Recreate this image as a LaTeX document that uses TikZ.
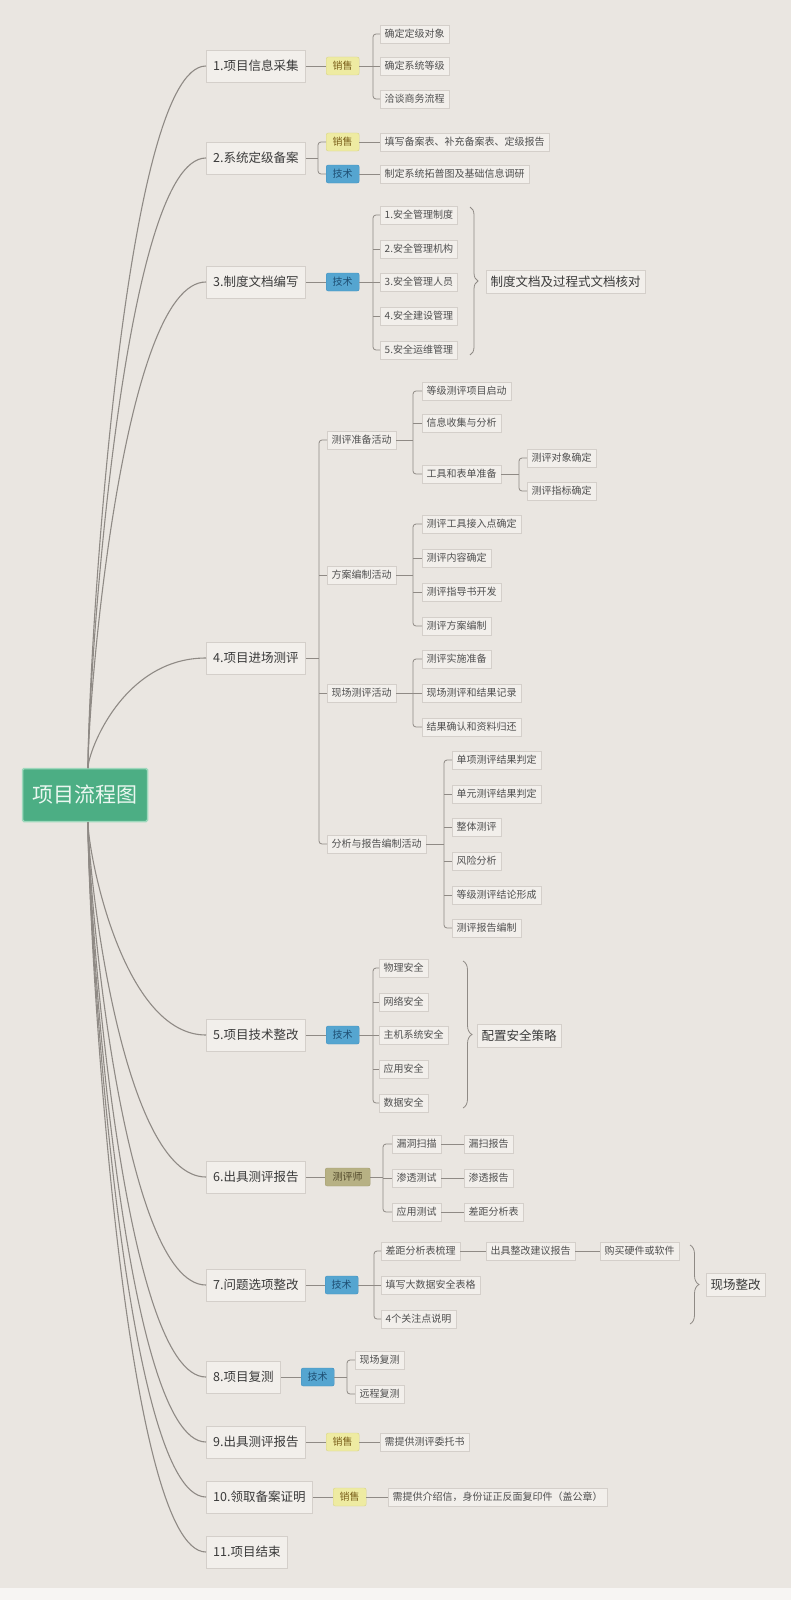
\documentclass[tikz,border=0pt]{standalone}
\usepackage{fontspec}
\setmainfont{Noto Sans CJK SC}
\usetikzlibrary{decorations.pathreplacing}
\definecolor{bgc}{HTML}{EAE6E1}
\definecolor{linec}{HTML}{8F8A85}
\definecolor{boxf}{HTML}{F2EFEB}
\definecolor{boxd}{HTML}{D4CFCA}
\definecolor{maint}{HTML}{3A3A3A}
\definecolor{leaft}{HTML}{505050}
\definecolor{salef}{HTML}{EEEBA2}
\definecolor{saled}{HTML}{D8D488}
\definecolor{salet}{HTML}{7A5F1A}
\definecolor{techf}{HTML}{55A5D0}
\definecolor{techd}{HTML}{3F8FBF}
\definecolor{techt}{HTML}{1F4F73}
\definecolor{testf}{HTML}{B7B184}
\definecolor{testd}{HTML}{A39D70}
\definecolor{testt}{HTML}{4F4628}
\definecolor{rootf}{HTML}{4CAE84}
\definecolor{rootd}{HTML}{9ED8BC}
\definecolor{roott}{HTML}{EAF7F0}
\newcommand\fork[4]{\draw[conn] (#1.east) -- (#2);\draw[conn,rounded corners=3pt] (#3.west) -| (#2) |- (#4.west);}
\newcommand\forkm[5]{\fork{#1}{#2}{#3}{#4}\foreach \c in {#5}{\draw[conn] (#2 |- \c.west) -- (\c.west);}}
\newcommand\mainlink[4]{\draw[trunk] (#1) .. controls (88,{#2+0.15*(#4-#2)}) and (123,#4) .. (#3.west);}
\begin{document}
\begin{tikzpicture}[x=1pt,y=-1pt,
  trunk/.style={draw=linec, line width=1.1pt},
  conn/.style={draw=linec, line width=0.8pt},
  mainbox/.style={draw=boxd, fill=boxf, text=maint, font=\fontsize{12.5pt}{15pt}\selectfont, minimum height=32pt, inner xsep=7pt, anchor=west},
  leaf/.style={draw=boxd, fill=boxf, text=leaft, font=\fontsize{10pt}{12pt}\selectfont, minimum height=18pt, inner xsep=4.5pt, inner ysep=1pt, anchor=west},
  sale/.style={fill=salef, draw=saled, text=salet, font=\fontsize{10pt}{12pt}\selectfont, minimum height=18pt, minimum width=33pt, inner xsep=2pt, rounded corners=2pt, anchor=west},
  tech/.style={sale, fill=techf, draw=techd, text=techt},
  tester/.style={sale, fill=testf, draw=testd, text=testt, minimum width=45pt},
  big/.style={leaf, text=maint, font=\fontsize{12.5pt}{15pt}\selectfont, minimum height=23pt},
  rootbox/.style={fill=rootf, draw=rootd, line width=1.5pt, text=roott, font=\fontsize{21pt}{25pt}\selectfont, minimum height=53pt, minimum width=125pt, rounded corners=1.5pt},
  bracec/.style={draw=linec, line width=0.8pt, decorate, decoration={brace, amplitude=8pt}}
]
\useasboundingbox (0,0) rectangle (791,1600);
\fill[bgc] (0,0) rectangle (791,1600);
\fill[white!60!bgc] (0,1588) rectangle (791,1600);

% root
\node[rootbox] (root) at (85,795) {项目流程图};
\coordinate (ht) at (88,768);
\coordinate (hb) at (88,822);

% main nodes
\node[mainbox] (n1) at (206,66) {1.项目信息采集};
\node[mainbox] (n2) at (206,158) {2.系统定级备案};
\node[mainbox] (n3) at (206,282) {3.制度文档编写};
\node[mainbox] (n4) at (206,658) {4.项目进场测评};
\node[mainbox] (n5) at (206,1035) {5.项目技术整改};
\node[mainbox] (n6) at (206,1177) {6.出具测评报告};
\node[mainbox] (n7) at (206,1285) {7.问题选项整改};
\node[mainbox] (n8) at (206,1377) {8.项目复测};
\node[mainbox] (n9) at (206,1442) {9.出具测评报告};
\node[mainbox] (n10) at (206,1497) {10.领取备案证明};
\node[mainbox] (n11) at (206,1552) {11.项目结束};

\mainlink{ht}{768}{n1}{66}
\mainlink{ht}{768}{n2}{158}
\mainlink{ht}{768}{n3}{282}
\mainlink{ht}{768}{n4}{658}
\mainlink{hb}{822}{n5}{1035}
\mainlink{hb}{822}{n6}{1177}
\mainlink{hb}{822}{n7}{1285}
\mainlink{hb}{822}{n8}{1377}
\mainlink{hb}{822}{n9}{1442}
\mainlink{hb}{822}{n10}{1497}
\mainlink{hb}{822}{n11}{1552}

% branch 1
\node[sale] (s1) at (326,66) {销售};
\node[leaf] (l1a) at (380,34) {确定定级对象};
\node[leaf] (l1b) at (380,66) {确定系统等级};
\node[leaf] (l1c) at (380,99) {洽谈商务流程};
\coordinate (j1) at (373,66);
\draw[conn] (n1.east) -- (s1.west);
\forkm{s1}{j1}{l1a}{l1c}{l1b}

% branch 2
\node[sale] (s2) at (326,142) {销售};
\node[tech] (t2) at (326,174) {技术};
\node[leaf] (l2a) at (380,142) {填写备案表、补充备案表、定级报告};
\node[leaf] (l2b) at (380,174) {制定系统拓普图及基础信息调研};
\coordinate (j2) at (318,158);
\fork{n2}{j2}{s2}{t2}
\draw[conn] (s2.east) -- (l2a.west);
\draw[conn] (t2.east) -- (l2b.west);

% branch 3
\node[tech] (t3) at (326,282) {技术};
\node[leaf] (l3a) at (380,215) {1.安全管理制度};
\node[leaf] (l3b) at (380,249) {2.安全管理机构};
\node[leaf] (l3c) at (380,282) {3.安全管理人员};
\node[leaf] (l3d) at (380,316) {4.安全建设管理};
\node[leaf] (l3e) at (380,350) {5.安全运维管理};
\coordinate (j3) at (373,282);
\draw[conn] (n3.east) -- (t3.west);
\forkm{t3}{j3}{l3a}{l3e}{l3b,l3c,l3d}
\coordinate (b3t) at (470,207);
\coordinate (b3b) at (470,355);
\draw[bracec] (b3t) -- (b3b);
\node[big] (d3) at (486,282) {制度文档及过程式文档核对};

% branch 4
\node[leaf] (p1) at (327,440) {测评准备活动};
\node[leaf] (p2) at (327,575) {方案编制活动};
\node[leaf] (p3) at (327,693) {现场测评活动};
\node[leaf] (p4) at (327,844) {分析与报告编制活动};
\coordinate (j4) at (319,658);
\forkm{n4}{j4}{p1}{p4}{p2,p3}

\node[leaf] (q1) at (422,391) {等级测评项目启动};
\node[leaf] (q2) at (422,423) {信息收集与分析};
\node[leaf] (q3) at (422,474) {工具和表单准备};
\coordinate (j41) at (413,440);
\forkm{p1}{j41}{q1}{q3}{q2}
\node[leaf] (r1) at (527,458) {测评对象确定};
\node[leaf] (r2) at (527,491) {测评指标确定};
\coordinate (j411) at (519,474);
\fork{q3}{j411}{r1}{r2}

\node[leaf] (q4) at (422,524) {测评工具接入点确定};
\node[leaf] (q5) at (422,558) {测评内容确定};
\node[leaf] (q6) at (422,592) {测评指导书开发};
\node[leaf] (q7) at (422,626) {测评方案编制};
\coordinate (j42) at (413,575);
\forkm{p2}{j42}{q4}{q7}{q5,q6}

\node[leaf] (q8) at (422,659) {测评实施准备};
\node[leaf] (q9) at (422,693) {现场测评和结果记录};
\node[leaf] (q10) at (422,727) {结果确认和资料归还};
\coordinate (j43) at (413,693);
\forkm{p3}{j43}{q8}{q10}{q9}

\node[leaf] (u1) at (452,760) {单项测评结果判定};
\node[leaf] (u2) at (452,794) {单元测评结果判定};
\node[leaf] (u3) at (452,827) {整体测评};
\node[leaf] (u4) at (452,861) {风险分析};
\node[leaf] (u5) at (452,895) {等级测评结论形成};
\node[leaf] (u6) at (452,928) {测评报告编制};
\coordinate (j44) at (444,844);
\forkm{p4}{j44}{u1}{u6}{u2,u3,u4,u5}

% branch 5
\node[tech] (t5) at (326,1035) {技术};
\node[leaf] (l5a) at (379,968) {物理安全};
\node[leaf] (l5b) at (379,1002) {网络安全};
\node[leaf] (l5c) at (379,1035) {主机系统安全};
\node[leaf] (l5d) at (379,1069) {应用安全};
\node[leaf] (l5e) at (379,1103) {数据安全};
\coordinate (j5) at (373,1035);
\draw[conn] (n5.east) -- (t5.west);
\forkm{t5}{j5}{l5a}{l5e}{l5b,l5c,l5d}
\coordinate (b5t) at (463,961);
\coordinate (b5b) at (463,1108);
\draw[bracec, decoration={amplitude=9pt}] (b5t) -- (b5b);
\node[big] (d5) at (477,1036) {配置安全策略};

% branch 6
\node[tester] (tt6) at (325,1177) {测评师};
\node[leaf] (l6a) at (392,1144) {漏洞扫描};
\node[leaf] (l6b) at (392,1178) {渗透测试};
\node[leaf] (l6c) at (392,1212) {应用测试};
\node[leaf] (m6a) at (464,1144) {漏扫报告};
\node[leaf] (m6b) at (464,1178) {渗透报告};
\node[leaf] (m6c) at (464,1212) {差距分析表};
\coordinate (j6) at (383,1177);
\draw[conn] (n6.east) -- (tt6.west);
\forkm{tt6}{j6}{l6a}{l6c}{l6b}
\draw[conn] (l6a.east) -- (m6a.west);
\draw[conn] (l6b.east) -- (m6b.west);
\draw[conn] (l6c.east) -- (m6c.west);

% branch 7
\node[tech] (t7) at (325,1285) {技术};
\node[leaf] (l7a) at (381,1251) {差距分析表梳理};
\node[leaf] (l7b) at (381,1285) {填写大数据安全表格};
\node[leaf] (l7c) at (381,1319) {4个关注点说明};
\node[leaf] (m7a) at (486,1251) {出具整改建议报告};
\node[leaf] (m7b) at (600,1251) {购买硬件或软件};
\coordinate (j7) at (374,1285);
\draw[conn] (n7.east) -- (t7.west);
\forkm{t7}{j7}{l7a}{l7c}{l7b}
\draw[conn] (l7a.east) -- (m7a.west);
\draw[conn] (m7a.east) -- (m7b.west);
\coordinate (b7t) at (690,1245);
\coordinate (b7b) at (690,1324);
\draw[bracec, decoration={amplitude=9pt}] (b7t) -- (b7b);
\node[big] (d7) at (706,1285) {现场整改};

% branch 8
\node[tech] (t8) at (301,1377) {技术};
\node[leaf] (l8a) at (355,1360) {现场复测};
\node[leaf] (l8b) at (355,1394) {远程复测};
\coordinate (j8) at (347,1377);
\draw[conn] (n8.east) -- (t8.west);
\fork{t8}{j8}{l8a}{l8b}

% branch 9
\node[sale] (s9) at (326,1442) {销售};
\node[leaf] (l9) at (380,1442) {需提供测评委托书};
\draw[conn] (n9.east) -- (s9.west);
\draw[conn] (s9.east) -- (l9.west);

% branch 10
\node[sale] (s10) at (333,1497) {销售};
\node[leaf] (l10) at (388,1497) {需提供介绍信，身份证正反面复印件（盖公章）};
\draw[conn] (n10.east) -- (s10.west);
\draw[conn] (s10.east) -- (l10.west);
\end{tikzpicture}
\end{document}
